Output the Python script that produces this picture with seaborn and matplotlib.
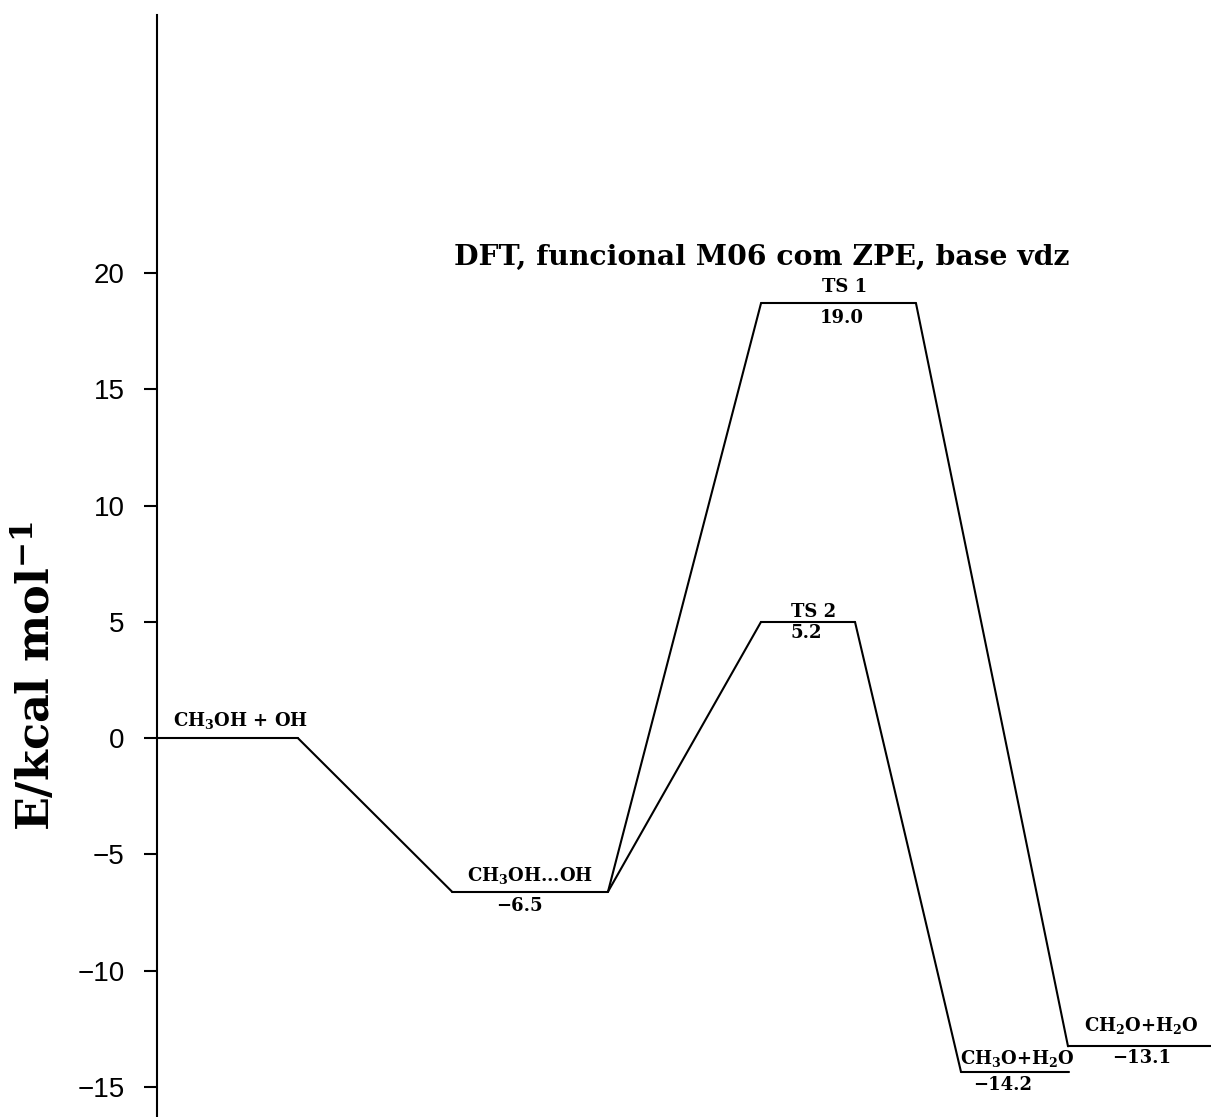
import matplotlib
matplotlib.use("Agg")
import matplotlib.pyplot as plt
import numpy as np
import pandas as pd
import seaborn as sns

# ---------------- data ----------------
species = ["CH$_3$OH + OH", "CH$_3$OH...OH", "TS 1", "TS 2",
           "CH$_3$O+H$_2$O", "CH$_2$O+H$_2$O"]
energies = [0.0, -6.6, 18.7, 5.0, -14.35, -13.25]       # level heights as drawn (kcal/mol)
value_labels = ["", "−6.5", "19.0", "5.2", "−14.2", "−13.1"]
connections = [(0, 1), (1, 2), (1, 3), (2, 5), (3, 4)]
y_ticks = [-15, -10, -5, 0, 5, 10, 15, 20]
title_text = "DFT, funcional M06 com ZPE, base vdz"
y_label = "E/kcal mol$^{-1}$"

# ---------------- layout ----------------
x_start = [0, 295, 604, 604, 804, 911]
x_end = [141, 451, 759, 698, 912, 1054]
label_off = [(9.7, 8.6), (0, 7.9), (4.7, 7.9), (4.3, 3.6), (1.8, 5.8), (1.1, 10.8)]
value_off = [(0, 0), (-7.9, -13.7), (2.5, -14.4), (-1.4, -11.5), (-8.6, -13.0), (1.8, -12.2)]

sns.set_theme(style="white")
plt.rcParams["font.family"] = ["DejaVu Serif"]
plt.rcParams["mathtext.fontset"] = "custom"
plt.rcParams["mathtext.default"] = "regular"
plt.rcParams["axes.unicode_minus"] = True
plt.rcParams["text.color"] = "black"
plt.rcParams["axes.labelcolor"] = "black"
plt.rcParams["ytick.color"] = "black"

# build segments (levels + connectors)
rows = []
seg = 0
for i in range(len(species)):
    rows.append((seg, x_start[i], energies[i]))
    rows.append((seg, x_end[i], energies[i]))
    seg += 1
for a, b in connections:
    rows.append((seg, x_end[a], energies[a]))
    rows.append((seg, x_start[b], energies[b]))
    seg += 1
df = pd.DataFrame(rows, columns=["seg", "x", "y"])

fig = plt.figure(figsize=(12.11, 11.17), dpi=100)
ax = fig.add_axes([157 / 1211, 0.0, 1 - 157 / 1211, 1102 / 1117])

sns.lineplot(data=df, x="x", y="y", units="seg", estimator=None, sort=False,
             color="black", linewidth=1.5, ax=ax, legend=False)
for l in ax.lines:
    l.set_clip_on(False)

ax.set_xlim(0, 1054)
ax.set_ylim(-16.29, 31.1)
ax.set_yticks(y_ticks)
ax.set_yticklabels([f"{t:d}".replace("-", "−") for t in y_ticks],
                   family="Liberation Sans", fontsize=20, color="black")
ax.tick_params(axis="y", direction="out", length=9.4, width=1.5, pad=14, colors="black",
               left=True)
ax.set_xticks([])
ax.set_xlabel("")
for s in ["top", "right", "bottom"]:
    ax.spines[s].set_visible(False)
ax.spines["left"].set_linewidth(1.5)
ax.spines["left"].set_color("black")

ax.set_ylabel(y_label, fontsize=32, fontweight="bold", family="DejaVu Serif", color="black")
ax.yaxis.set_label_coords(-0.093, 0.40)

# level labels
for i, name in enumerate(species):
    cx = (x_start[i] + x_end[i]) / 2
    ax.annotate(name, xy=(cx, energies[i]), xytext=label_off[i], textcoords="offset points",
                ha="center", va="baseline", fontsize=13, fontweight="bold",
                family="DejaVu Serif", color="black")
    if value_labels[i]:
        ax.annotate(value_labels[i], xy=(cx, energies[i]), xytext=value_off[i],
                    textcoords="offset points", ha="center", va="baseline",
                    fontsize=13, fontweight="bold", family="DejaVu Serif", color="black")

ax.text(0.574, 0.773, title_text, transform=ax.transAxes, ha="center", va="baseline",
        fontsize=20.3, fontweight="bold", family="DejaVu Serif", color="black")

fig.savefig("out.png", dpi=100)
